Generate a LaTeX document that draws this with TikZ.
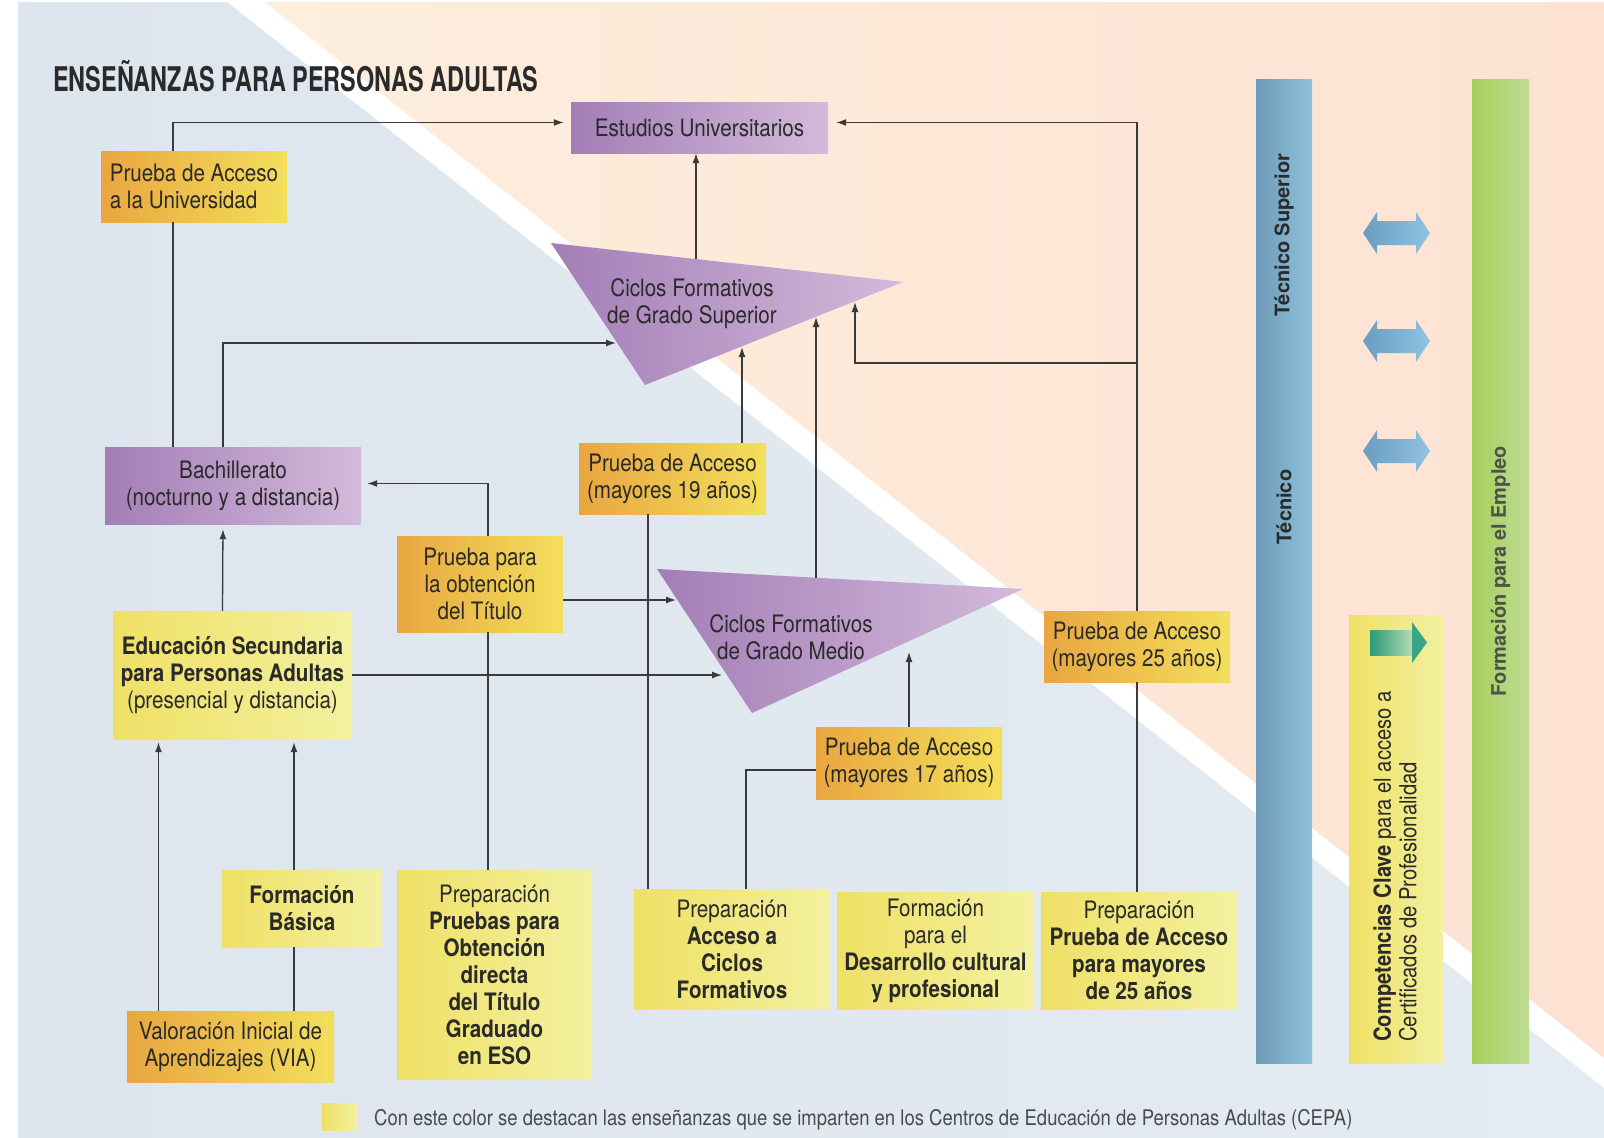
\documentclass[tikz,border=0pt]{standalone}
\usepackage{fontspec}
\setmainfont[FakeStretch=0.86]{TeX Gyre Heros}
\newfontfamily\titlefont[FakeStretch=0.69]{TeX Gyre Heros}
\newfontfamily\barfont{TeX Gyre Heros}
\usepackage{xcolor}
\usepackage{tikz}
\usetikzlibrary{arrows.meta,calc}

\definecolor{txt}{HTML}{2A2A2A}
\definecolor{lin}{HTML}{3A3A3A}
\definecolor{bgblueL}{HTML}{DDE5EE}
\definecolor{bgblueR}{HTML}{E4EBF2}
\definecolor{peachL}{HTML}{FDEEDD}
\definecolor{peachR}{HTML}{FDE2D3}
\definecolor{purL}{HTML}{A37EB6}
\definecolor{purR}{HTML}{D3BADA}
\definecolor{oraL}{HTML}{E9A640}
\definecolor{oraR}{HTML}{F3DF5C}
\definecolor{yelL}{HTML}{EFE065}
\definecolor{yelR}{HTML}{F3F1A0}
\definecolor{barL}{HTML}{6E9AB7}
\definecolor{barR}{HTML}{8FC2DC}
\definecolor{empL}{HTML}{A7CF5A}
\definecolor{empR}{HTML}{BDDC93}
\definecolor{dblL}{HTML}{6A9CC1}
\definecolor{dblR}{HTML}{90C4E0}
\definecolor{grnL}{HTML}{2A9A78}
\definecolor{grnR}{HTML}{B2DBB3}
\definecolor{grnH}{HTML}{38A686}
\definecolor{empTxt}{HTML}{4B524A}

\newcommand\boxfont{\fontsize{24}{27}\selectfont}

\tikzset{
  cell/.style={inner sep=0pt, align=center, text=txt, font=\boxfont},
  purplebox/.style={cell, left color=purL, right color=purR},
  orangebox/.style={cell, left color=oraL, right color=oraR},
  yellowbox/.style={cell, left color=yelL, right color=yelR},
  conn/.style={draw=lin, line width=1.3pt},
  arr/.style={conn, -{Latex[length=10pt,width=7pt]}},
  bartext/.style={rotate=90, inner sep=0pt, font=\barfont\bfseries\fontsize{20}{22}\selectfont}
}

\begin{document}
\begin{tikzpicture}[x=1pt,y=-1pt]
\useasboundingbox (0,0) rectangle (1604,1138);

% background
\fill[white] (0,0) rectangle (1604,1138);
\shade[left color=bgblueL, right color=bgblueR] (18,2) -- (227,2) -- (1604,1088) -- (1604,1138) -- (18,1138) -- cycle;
\shade[left color=peachL, right color=peachR] (265,2) -- (1604,2) -- (1604,1058) -- cycle;

\node[anchor=base west, inner sep=0pt, text=txt, font=\titlefont\bfseries\fontsize{34}{38}\selectfont] (title) at (53,91) {ENSEÑANZAS PARA PERSONAS ADULTAS};

% triangles
\coordinate (gsA) at (551,243);
\coordinate (gsB) at (903,282);
\coordinate (gsC) at (645,385);
\coordinate (gmA) at (657,569);
\coordinate (gmB) at (1023,589);
\coordinate (gmC) at (752,713);
\shade[left color=purL, right color=purR] (gsA) -- (gsB) -- (gsC) -- cycle;
\shade[left color=purL, right color=purR] (gmA) -- (gmB) -- (gmC) -- cycle;
\node[cell] (gs) at (692,304) {Ciclos Formativos\\de Grado Superior};
\node[cell] (gm) at (791,637) {Ciclos Formativos\\de Grado Medio};

% boxes
\node[purplebox, minimum width=257pt, minimum height=51pt] (eu) at (699.5,127.5) {Estudios Universitarios};
\node[orangebox, minimum width=186pt, minimum height=71pt, align=left] (pau) at (194,186.5) {Prueba de Acceso\\a la Universidad};
\node[purplebox, minimum width=256pt, minimum height=77pt] (bach) at (233,485.5) {Bachillerato\\(nocturno y a distancia)};
\node[orangebox, minimum width=187pt, minimum height=71pt] (p19) at (672.5,478.5) {Prueba de Acceso\\(mayores 19 años)};
\node[orangebox, minimum width=166pt, minimum height=96pt] (ptitulo) at (480,584) {Prueba para\\la obtención\\del Título};
\node[yellowbox, minimum width=239pt, minimum height=128pt] (espa) at (232.5,675) {\textbf{Educación Secundaria}\\\textbf{para Personas Adultas}\\(presencial y distancia)};
\node[orangebox, minimum width=186pt, minimum height=71pt] (p25) at (1137,646.5) {Prueba de Acceso\\(mayores 25 años)};
\node[orangebox, minimum width=186pt, minimum height=72pt] (p17) at (909,763) {Prueba de Acceso\\(mayores 17 años)};
\node[yellowbox, minimum width=160pt, minimum height=77pt] (fb) at (302,908.5) {\textbf{Formación}\\\textbf{Básica}};
\node[yellowbox, minimum width=195pt, minimum height=209pt] (prepeso) at (494.5,974.5) {Preparación\\\textbf{Pruebas para}\\\textbf{Obtención}\\\textbf{directa}\\\textbf{del Título}\\\textbf{Graduado}\\\textbf{en ESO}};
\node[orangebox, minimum width=207pt, minimum height=71pt] (via) at (230.5,1046.5) {Valoración Inicial de\\Aprendizajes (VIA)};
\node[yellowbox, minimum width=196pt, minimum height=120pt] (prepciclos) at (732,949) {Preparación\\\textbf{Acceso a}\\\textbf{Ciclos}\\\textbf{Formativos}};
\node[yellowbox, minimum width=197pt, minimum height=117pt] (desarrollo) at (935.5,950.5) {Formación\\para el\\\textbf{Desarrollo cultural}\\\textbf{y profesional}};
\node[yellowbox, minimum width=196pt, minimum height=117pt] (prepmayores) at (1139,950.5) {Preparación\\\textbf{Prueba de Acceso}\\\textbf{para mayores}\\\textbf{de 25 años}};

% points on the triangles
\coordinate (gsbach) at (616,343);
\coordinate (gsnineteen) at (742,347);
\coordinate (gsmedio) at (816,317);
\coordinate (gsright) at (855,302);
\coordinate (gstop) at (696,259);
\coordinate (gmtitulo) at (676,600);
\coordinate (gmespa) at (722,675);
\coordinate (gmtop) at (816,578);
\coordinate (gmseventeen) at (909,652);
\coordinate (brk) at (1137,363);

% connectors
\draw[conn] ([xshift=-60pt]bach.north) -- ([xshift=-60pt]bach.north |- pau.south);
\draw[arr, shorten >=7pt] ([xshift=-60pt]bach.north |- pau.north) |- ([yshift=5pt]eu.west);
\draw[arr] ([xshift=-10pt]bach.north) |- (gsbach);
\draw[arr] (gstop) -- (gstop |- eu.south);
\draw[arr] (gmtop) -- (gsmedio);
\draw[arr] (gsnineteen |- p19.north) -- (gsnineteen);
\draw[conn] (prepmayores.north -| p25) -- (p25.south);
\draw[arr, shorten >=8pt] (p25.north) |- ([yshift=5pt]eu.east);
\draw[arr] (brk) -| (gsright);
\draw[arr] (gmseventeen |- p17.north) -- (gmseventeen);
\draw[arr] ([yshift=-16pt]ptitulo.east) -- (gmtitulo);
\draw[arr] (espa.east) -- (gmespa);
\draw[arr, shorten >=5pt] ([xshift=-10pt]espa.north) -- ([xshift=-10pt]bach.south);
\draw[arr, shorten >=3pt] ([xshift=-72pt]via.north) -- ([xshift=-72pt]via.north |- espa.south);
\draw[conn] ([xshift=-8pt]fb.south) -- ([xshift=-8pt]fb.south |- via.north);
\draw[arr, shorten >=3pt] ([xshift=-8pt]fb.north) -- ([xshift=-8pt]fb.north |- espa.south);
\draw[conn] ([xshift=-6.5pt]prepeso.north) -- ([xshift=-6.5pt]prepeso.north |- ptitulo.south);
\draw[arr, shorten >=6pt] ([xshift=8pt]ptitulo.north) |- ([yshift=2pt]bach.east);
\draw[conn] ([xshift=-84pt]prepciclos.north) -- ([xshift=-84pt]prepciclos.north |- p19.south);
\draw[conn] ([xshift=14pt]prepciclos.north) |- ([yshift=-7pt]p17.west);

% right side bars
\node[left color=barL, right color=barR, minimum width=56pt, minimum height=984pt, inner sep=0pt] (tecbar) at (1284,571) {};
\node[left color=empL, right color=empR, minimum width=57pt, minimum height=984pt, inner sep=0pt] (empbar) at (1500.5,571) {};
\node[bartext, text=txt] (tecsup) at (1284,235) {Técnico Superior};
\node[bartext, text=txt] (tec) at (1284,507) {Técnico};
\node[bartext, text=empTxt] (empleo) at (1500.5,571) {Formación para el Empleo};

\foreach \y in {233,341,451}
  \shade[left color=dblL, right color=dblR] (1363,\y) -- (1377,\y-21) -- (1377,\y-12) -- (1416,\y-12) -- (1416,\y-21) -- (1430,\y) -- (1416,\y+21) -- (1416,\y+12) -- (1377,\y+12) -- (1377,\y+21) -- cycle;

\node[yellowbox, minimum width=94pt, minimum height=448pt] (compbox) at (1396,839) {};
\shade[left color=grnL, right color=grnR] (1370,630) rectangle (1412,655);
\fill[grnH] (1412,622) -- (1427,642.5) -- (1412,663) -- cycle;
\node[rotate=90, anchor=west, inner sep=0pt, align=left, text=txt, font=\fontsize{23.5}{25.5}\selectfont] (comp) at (1395,1042) {\textbf{Competencias Clave} para el acceso a\\Certificados de Profesionalidad};

% legend
\node[yellowbox, minimum width=35pt, minimum height=27pt] (legsq) at (339.5,1116.5) {};
\node[anchor=base west, inner sep=0pt, text=txt!85, font=\fontsize{21.5}{24}\selectfont] (legend) at (374,1125) {Con este color se destacan las enseñanzas que se imparten en los Centros de Educación de Personas Adultas (CEPA)};
\end{tikzpicture}
\end{document}
